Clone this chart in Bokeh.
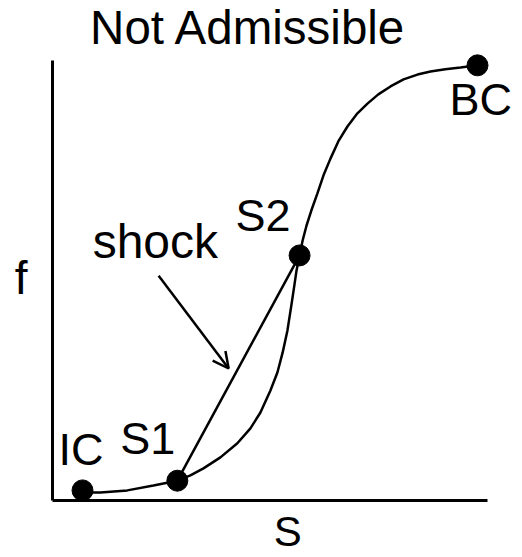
from bokeh.plotting import figure
from bokeh.models import (Range1d, Label, LabelSet, Arrow, OpenHead,
                          ColumnDataSource, LinearAxis, FixedTicker)
from bokeh.core.properties import value
from bokeh.embed import file_html
from bokeh.resources import INLINE

# ---- data (S = saturation, f = fractional flow) ----
curve_s = [0.069, 0.110, 0.172, 0.232, 0.287, 0.317, 0.347, 0.386, 0.425,
           0.455, 0.478, 0.501, 0.517, 0.529, 0.540, 0.549, 0.556, 0.561,
           0.568, 0.575, 0.584, 0.595, 0.609, 0.623, 0.639, 0.657, 0.678,
           0.701, 0.724, 0.749, 0.777, 0.807, 0.839, 0.869, 0.903, 0.938,
           0.977]
curve_f = [0.018, 0.018, 0.023, 0.034, 0.045, 0.057, 0.073, 0.098, 0.130,
           0.164, 0.200, 0.250, 0.291, 0.336, 0.386, 0.443, 0.489, 0.523,
           0.557, 0.591, 0.625, 0.659, 0.698, 0.739, 0.777, 0.816, 0.850,
           0.880, 0.902, 0.923, 0.941, 0.957, 0.968, 0.975, 0.980, 0.984,
           0.989]

point_names = ["IC", "S1", "S2", "BC"]
point_s = [0.069, 0.287, 0.568, 0.977]
point_f = [0.023, 0.045, 0.557, 0.989]

shock_s = [point_s[1], point_s[2]]
shock_f = [point_f[1], point_f[2]]

arrow_s = [0.244, 0.405]
arrow_f = [0.511, 0.300]

title_text = "Not Admissible"
x_label = "S"
y_label = "f"
shock_label = "shock"

# ---- layout / style ----
FONT = "Liberation Sans"
label_dx = [-24, -57, -64, -28]
label_dy = [25, 27, 24, -50]

p = figure(width=522, height=557, output_backend="svg", toolbar_location=None,
           x_range=Range1d(-0.11954, 1.08046),
           y_range=Range1d(-0.129545, 1.136364),
           x_axis_type=None, y_axis_type=None,
           min_border=0)
p.grid.visible = False
p.outline_line_color = None
p.background_fill_color = "white"
p.border_fill_color = "white"

for side in ("left", "below"):
    ax = LinearAxis(fixed_location=0, ticker=FixedTicker(ticks=[]),
                    axis_line_width=3, axis_line_color="black",
                    major_tick_line_color=None, minor_tick_line_color=None,
                    major_tick_out=0, minor_tick_out=0,
                    major_label_text_font_size="0px", bounds=(0, 1))
    p.add_layout(ax, side)

# fractional-flow curve
p.line(curve_s, curve_f, line_color="black", line_width=2.5)
# shock chord
p.line(shock_s, shock_f, line_color="black", line_width=2.5)
# points
src = ColumnDataSource(dict(s=point_s, f=point_f, name=point_names,
                            dx=label_dx, dy=label_dy))
p.scatter("s", "f", source=src, size=21, color="black")

p.add_layout(LabelSet(x="s", y="f", text="name", source=src,
                      x_offset="dx", y_offset="dy",
                      text_font=value(FONT), text_font_size=value("45px"),
                      text_color="black", text_align="left",
                      text_baseline="alphabetic"))

# arrow + shock label
p.add_layout(Arrow(end=OpenHead(size=16, line_width=2.5, line_color="black"),
                   x_start=arrow_s[0], y_start=arrow_f[0],
                   x_end=arrow_s[1], y_end=arrow_f[1],
                   line_width=2.5, line_color="black"))
p.add_layout(Label(x=arrow_s[0], y=arrow_f[0], x_offset=-66, y_offset=34,
                   text=shock_label, text_font=FONT, text_font_size="48px",
                   text_color="black",
                   text_align="left", text_baseline="alphabetic"))

# title and axis names
p.add_layout(Label(x=0.4506, y=1.034, y_offset=18, text=title_text,
                   text_font=FONT, text_font_size="47.5px", text_color="black",
                   text_align="center", text_baseline="alphabetic"))
p.add_layout(Label(x=0.541, y=-0.1136, y_offset=19, text=x_label,
                   text_font=FONT, text_font_size="42px", text_color="black",
                   text_align="center", text_baseline="alphabetic"))
p.add_layout(Label(x=-0.087, y=0.466, y_offset=17, text=y_label,
                   text_font=FONT, text_font_size="46px", text_color="black",
                   text_align="left", text_baseline="alphabetic"))

open("out.html", "w").write(file_html(p, INLINE))
